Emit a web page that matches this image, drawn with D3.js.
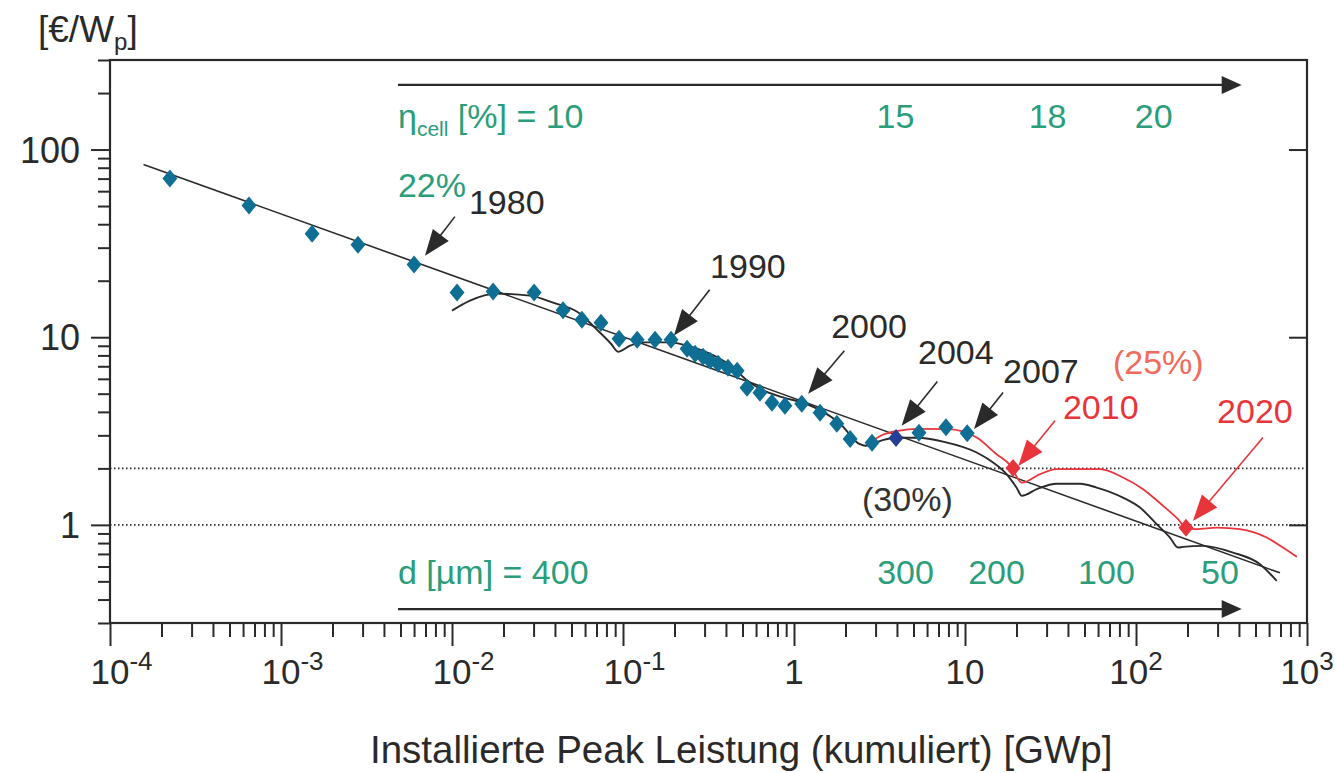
<!DOCTYPE html>
<html><head><meta charset="utf-8">
<script src="https://cdn.jsdelivr.net/npm/d3@7"></script>
<style>
body{margin:0;background:#fff}
svg{display:block}
text{font-family:"Liberation Sans",Arial,Helvetica,sans-serif}
</style>
</head><body>
<svg id="c" width="1335" height="773"></svg>
<script>
// ---------------- DATA ----------------
// measured module prices (blue diamonds): cumulative GWp, €/Wp
const costX = [2.24e-4, 6.5e-4, 1.52e-3, 2.82e-3, 6.0e-3, 0.0107, 0.0174, 0.0302, 0.0446, 0.0575, 0.0743, 0.0948, 0.121, 0.154, 0.191, 0.237, 0.264, 0.294, 0.323, 0.360, 0.411, 0.465, 0.531, 0.632, 0.743, 0.885, 1.11, 1.42, 1.78, 2.13, 2.86, 5.38, 7.74, 10.3];
const costY = [70.0, 50.3, 35.6, 31.1, 24.4, 17.3, 17.5, 17.3, 13.9, 12.4, 11.95, 9.82, 9.70, 9.70, 9.70, 8.68, 8.17, 7.87, 7.49, 7.22, 6.88, 6.63, 5.38, 5.06, 4.47, 4.31, 4.42, 3.96, 3.46, 2.87, 2.74, 3.10, 3.31, 3.08];
// highlighted (dark blue) point
const highlightX = [3.95];
const highlightY = [2.90];
// straight learning curve
const learningX = [1.57e-4, 695];
const learningY = [83.2, 0.555];
// black scalloped curve
const scallopX = [0.0100, 0.01274, 0.01807, 0.02858, 0.03899, 0.0561, 0.0685, 0.0851, 0.0935, 0.110, 0.1346, 0.1832, 0.250, 0.3404, 0.4395, 0.528, 0.632, 0.863, 1.175, 1.438, 1.874, 2.425, 2.62, 3.30, 4.06, 5.24, 7.54, 11.7, 14.6, 17.5, 20.0, 21.5, 26.3, 34.4, 47.1, 58.9, 83.9, 105.5, 132, 158, 176, 188, 247, 369, 531, 665];
const scallopY = [13.85, 15.66, 17.06, 16.65, 15.28, 13.35, 11.24, 9.23, 8.37, 9.01, 9.38, 9.38, 8.90, 7.97, 6.90, 5.91, 5.31, 4.78, 4.42, 4.06, 3.44, 2.69, 2.64, 2.83, 2.91, 2.91, 2.77, 2.43, 2.15, 1.864, 1.581, 1.428, 1.55, 1.655, 1.655, 1.581, 1.398, 1.237, 1.009, 0.856, 0.757, 0.763, 0.773, 0.712, 0.617, 0.503];
// red forecast curve
const forecastX = [2.69, 3.30, 4.06, 5.24, 7.96, 11.7, 15.3, 18.3, 21.5, 27.5, 34.4, 61.5, 83.9, 110, 144, 176, 196, 226, 297, 405, 581, 724, 871];
const forecastY = [2.69, 3.02, 3.17, 3.25, 3.24, 2.92, 2.38, 2.09, 1.68, 1.864, 1.98, 1.98, 1.788, 1.55, 1.263, 1.072, 0.964, 0.949, 0.967, 0.949, 0.856, 0.757, 0.675];
// red milestone markers (2010, 2020)
const milestoneX = [19.1, 196];
const milestoneY = [2.01, 0.964];
// reference price levels (dotted)
const refLevels = [2, 1];
// year annotations
const yearLabels = ["1980", "1990", "2000", "2004", "2007", "2010", "2020"];
const yearIsForecast = [false, false, false, false, false, true, true];
const yearTextX = [0.01256, 0.323, 1.65, 5.31, 16.7, 37.4, 298];
const yearTextY = [45.6, 20.8, 9.94, 7.22, 5.72, 3.68, 3.5];
const arrowFromX = [0.0104, 0.321, 1.97, 6.89, 16.7, 33.6, 553];
const arrowFromY = [43.9, 17.9, 8.47, 5.81, 5.08, 3.59, 2.92];
const arrowToX = [0.00695, 0.1986, 1.21, 4.26, 11.3, 20.5, 215];
const arrowToY = [27.2, 10.2, 5.0, 3.37, 3.24, 2.06, 1.05];
// cell efficiency scale (top) and wafer thickness scale (bottom)
const etaStartLabel = ["η", "cell", " [%] = 10"];
const etaLabels = ["15", "18", "20"];
const etaX = [3.92, 30.4, 127];
const thickStartLabel = "d [µm] = 400";
const thickLabels = ["300", "200", "100", "50"];
const thickX = [4.49, 15.3, 67.2, 310];
const scaleArrowX = [4.83e-3, 415];
const etaArrowY = 221, etaTextY = 131;
const thickArrowY = 0.356, thickTextY = 0.485;
// other notes
const noteLabels = ["22%", "(25%)", "(30%)"];
const noteX = [4.83e-3, 73.3, 2.5];
const noteY = [55.7, 6.39, 1.19];
// axes
const xExponents = [-4, -3, -2, -1, 0, 1, 2, 3];
const yMajor = [1, 10, 100];
const yMajorLabels = ["1", "10", "100"];
const yUnit = ["[€/W", "p", "]"];
const xTitle = "Installierte Peak Leistung (kumuliert) [GWp]";

// ---------------- CHART ----------------
const svg = d3.select("#c");
svg.append("rect").attr("width", 1335).attr("height", 773).attr("fill", "#fff");

const x = d3.scaleLog().domain([1e-4, 1e3]).range([110, 1307]);
const y = d3.scaleLog().domain([0.3, 300]).range([623, 60]);

const INK = "#2a2a2a", GREEN = "#2a9d7b", RED = "#e8353b", SALMON = "#ef6b5c",
      BLUE = "#0e6e93", DBLUE = "#243f97";

// minor tick values
const xTicksAll = [];
for (let e = -4; e < 3; e++) for (let m = 1; m < 10; m++) xTicksAll.push(m * Math.pow(10, e));
xTicksAll.push(1000);
const yTicksAll = [];
[0.1, 1, 10, 100].forEach(d => { for (let m = 1; m < 10; m++) { const v = +(m * d).toPrecision(3); if (v >= 0.3 && v <= 300) yTicksAll.push(v); } });
const isMajor = v => Math.abs(Math.log10(v) - Math.round(Math.log10(v))) < 1e-6;

// x axis
const gx = svg.append("g").attr("transform", `translate(0,${y.range()[0]})`)
  .call(d3.axisBottom(x).tickValues(xTicksAll).tickSize(14).tickSizeOuter(0).tickFormat(""));
gx.select(".domain").remove();
gx.selectAll(".tick line").attr("stroke", INK).attr("stroke-width", 2)
  .attr("y2", d => isMajor(d) ? 23 : 14);

// y axis left
const gy = svg.append("g").attr("transform", `translate(${x.range()[0]},0)`)
  .call(d3.axisLeft(y).tickValues(yTicksAll).tickSize(12).tickSizeOuter(0).tickFormat(""));
gy.select(".domain").remove();
gy.selectAll(".tick line").attr("stroke", INK).attr("stroke-width", 2)
  .attr("x2", d => isMajor(d) ? -19 : -12);

// y axis right (inner major ticks)
const gr = svg.append("g").attr("transform", `translate(${x.range()[1]},0)`)
  .call(d3.axisLeft(y).tickValues(yMajor).tickSize(18).tickSizeOuter(0).tickFormat(""));
gr.select(".domain").remove();
gr.selectAll(".tick line").attr("stroke", INK).attr("stroke-width", 2);

// frame
svg.append("rect")
  .attr("x", x.range()[0]).attr("y", y.range()[1])
  .attr("width", x.range()[1] - x.range()[0]).attr("height", y.range()[0] - y.range()[1])
  .attr("fill", "none").attr("stroke", INK).attr("stroke-width", 2.2);

// y tick labels
svg.append("g").selectAll("text").data(yMajor).join("text")
  .attr("x", 80).attr("y", d => y(d) + 13)
  .attr("text-anchor", "end").attr("font-size", 36).attr("fill", INK)
  .text((d, i) => yMajorLabels[i]);

// x tick labels
const xl = svg.append("g");
xExponents.forEach(e => {
  const px = x(Math.pow(10, e));
  if (e === 0 || e === 1) {
    xl.append("text").attr("x", px).attr("y", 684).attr("text-anchor", "middle")
      .attr("font-size", 35).attr("fill", INK).text(e === 0 ? "1" : "10");
  } else {
    const t = xl.append("text").attr("y", 684).attr("font-size", 35).attr("fill", INK);
    if (e < 0) t.attr("x", px - 19.5);
    else t.attr("x", px).attr("text-anchor", "middle");
    t.append("tspan").text("10");
    t.append("tspan").attr("font-size", 26).attr("dy", -14).text(String(e));
  }
});

// axis titles
const yt = svg.append("text").attr("x", 38).attr("y", 42).attr("font-size", 37).attr("fill", INK);
yt.append("tspan").text(yUnit[0]);
yt.append("tspan").attr("font-size", 24).attr("dy", 8).text(yUnit[1]);
yt.append("tspan").attr("dy", -8).text(yUnit[2]);

svg.append("text").attr("x", 370).attr("y", 763).attr("font-size", 38.5).attr("fill", INK).text(xTitle);

// dotted reference lines
svg.append("g").selectAll("line").data(refLevels).join("line")
  .attr("x1", x.range()[0]).attr("x2", x.range()[1])
  .attr("y1", d => y(d)).attr("y2", d => y(d))
  .attr("stroke", INK).attr("stroke-width", 1.6).attr("stroke-dasharray", "1.5,2.5");

// lines
const lineGen = d3.line().x(d => x(d[0])).y(d => y(d[1]));
const curveGen = d3.line().x(d => x(d[0])).y(d => y(d[1])).curve(d3.curveMonotoneX);

svg.append("path").datum(learningX.map((v, i) => [v, learningY[i]]))
  .attr("d", lineGen).attr("fill", "none").attr("stroke", INK).attr("stroke-width", 1.6);
svg.append("path").datum(scallopX.map((v, i) => [v, scallopY[i]]))
  .attr("d", curveGen).attr("fill", "none").attr("stroke", INK).attr("stroke-width", 1.9)
  .attr("stroke-linejoin", "miter");
svg.append("path").datum(forecastX.map((v, i) => [v, forecastY[i]]))
  .attr("d", curveGen).attr("fill", "none").attr("stroke", RED).attr("stroke-width", 1.8);

// diamond symbol
const diamond = {
  draw(ctx, size) {
    const h = Math.sqrt(size) * 0.6, w = h * 0.83;
    ctx.moveTo(0, -h); ctx.lineTo(w, 0); ctx.lineTo(0, h); ctx.lineTo(-w, 0); ctx.closePath();
  }
};
const sym = d3.symbol().type(diamond).size(225);

svg.append("g").selectAll("path").data(costX.map((v, i) => [v, costY[i]])).join("path")
  .attr("transform", d => `translate(${x(d[0])},${y(d[1])})`)
  .attr("d", sym).attr("fill", BLUE);
svg.append("g").selectAll("path").data(highlightX.map((v, i) => [v, highlightY[i]])).join("path")
  .attr("transform", d => `translate(${x(d[0])},${y(d[1])})`)
  .attr("d", sym).attr("fill", DBLUE);
svg.append("g").selectAll("path").data(milestoneX.map((v, i) => [v, milestoneY[i]])).join("path")
  .attr("transform", d => `translate(${x(d[0])},${y(d[1])})`)
  .attr("d", sym).attr("fill", RED);

// arrows
function arrow(g, x1, y1, x2, y2, color, L, hw, sw) {
  const dx = x2 - x1, dy = y2 - y1, len = Math.hypot(dx, dy), ux = dx / len, uy = dy / len;
  const bx = x2 - ux * L, by = y2 - uy * L;
  g.append("line").attr("x1", x1).attr("y1", y1).attr("x2", bx + ux * 2).attr("y2", by + uy * 2)
    .attr("stroke", color).attr("stroke-width", sw);
  g.append("path").attr("d", `M${x2},${y2}L${bx - uy * hw},${by + ux * hw}L${bx + uy * hw},${by - ux * hw}Z`)
    .attr("fill", color);
}
const ag = svg.append("g");
yearLabels.forEach((lab, i) => {
  const c = yearIsForecast[i] ? RED : INK;
  arrow(ag, x(arrowFromX[i]), y(arrowFromY[i]), x(arrowToX[i]), y(arrowToY[i]), c, 26, 10, 1.6);
  ag.append("text").attr("x", x(yearTextX[i])).attr("y", y(yearTextY[i]))
    .attr("font-size", 34).attr("fill", c).text(lab);
});

// scale arrows
arrow(ag, x(scaleArrowX[0]), y(etaArrowY), x(scaleArrowX[1]), y(etaArrowY), INK, 20, 9, 2.2);
arrow(ag, x(scaleArrowX[0]), y(thickArrowY), x(scaleArrowX[1]), y(thickArrowY), INK, 20, 9, 2.2);

// efficiency labels
const et = ag.append("text").attr("x", x(scaleArrowX[0])).attr("y", y(etaTextY))
  .attr("font-size", 34).attr("fill", GREEN);
et.append("tspan").text(etaStartLabel[0]);
et.append("tspan").attr("font-size", 21).attr("dy", 8).text(etaStartLabel[1]);
et.append("tspan").attr("dy", -8).text(etaStartLabel[2]);
ag.append("g").selectAll("text").data(etaX).join("text")
  .attr("x", d => x(d)).attr("y", y(etaTextY)).attr("text-anchor", "middle")
  .attr("font-size", 34).attr("fill", GREEN).text((d, i) => etaLabels[i]);

// thickness labels
ag.append("text").attr("x", x(scaleArrowX[0])).attr("y", y(thickTextY))
  .attr("font-size", 34).attr("fill", GREEN).text(thickStartLabel);
ag.append("g").selectAll("text").data(thickX).join("text")
  .attr("x", d => x(d)).attr("y", y(thickTextY)).attr("text-anchor", "middle")
  .attr("font-size", 34).attr("fill", GREEN).text((d, i) => thickLabels[i]);

// notes
const noteColors = [GREEN, SALMON, "#333"];
noteLabels.forEach((n, i) => {
  ag.append("text").attr("x", x(noteX[i])).attr("y", y(noteY[i]))
    .attr("font-size", 34).attr("fill", noteColors[i]).text(n);
});
</script>
</body></html>
